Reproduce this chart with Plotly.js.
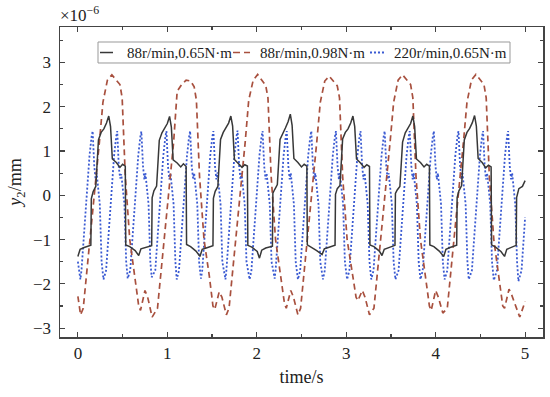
<!DOCTYPE html>
<html>
<head>
<meta charset="utf-8">
<script src="https://cdn.plot.ly/plotly-3.0.1.min.js"></script>
<style>html,body{margin:0;padding:0;background:#fff;}#chart{width:550px;height:397px;}</style>
</head>
<body>
<div id="chart"></div>
<script>
// Values in units of 1e-6 mm (axis shows ×10^-6)
const seriesNames = ['88r/min,0.65N·m', '88r/min,0.98N·m', '220r/min,0.65N·m'];
const xTickVals = [0, 1, 2, 3, 4, 5];
const yTickVals = [-3, -2, -1, 0, 1, 2, 3];

const blackTime = [
0, 0.025, 0.07, 0.145, 0.15, 0.17, 0.20, 0.23, 0.26, 0.29, 0.32, 0.345, 0.365, 0.385, 0.43, 0.47, 0.50, 0.53, 0.535, 0.58, 0.64,
0.68, 0.705, 0.75, 0.825, 0.83, 0.85, 0.88, 0.91, 0.94, 0.97, 1.00, 1.025, 1.045, 1.065, 1.11, 1.15, 1.18, 1.21, 1.215, 1.26, 1.32,
1.365, 1.39, 1.435, 1.51, 1.515, 1.535, 1.565, 1.595, 1.625, 1.655, 1.685, 1.71, 1.73, 1.75, 1.795, 1.835, 1.865, 1.895, 1.90, 1.945, 2.005,
2.03, 2.055, 2.10, 2.175, 2.18, 2.20, 2.23, 2.26, 2.29, 2.32, 2.35, 2.375, 2.395, 2.415, 2.46, 2.50, 2.53, 2.56, 2.565, 2.61, 2.67,
2.73, 2.755, 2.80, 2.875, 2.88, 2.90, 2.93, 2.96, 2.99, 3.02, 3.05, 3.075, 3.095, 3.115, 3.16, 3.20, 3.23, 3.26, 3.265, 3.31, 3.37,
3.40, 3.425, 3.47, 3.545, 3.55, 3.57, 3.60, 3.63, 3.66, 3.69, 3.72, 3.745, 3.765, 3.785, 3.83, 3.87, 3.90, 3.93, 3.935, 3.98, 4.04,
4.09, 4.115, 4.16, 4.235, 4.24, 4.26, 4.29, 4.32, 4.35, 4.38, 4.41, 4.435, 4.455, 4.475, 4.52, 4.56, 4.59, 4.62, 4.625, 4.67, 4.73,
4.77, 4.795, 4.84, 4.90, 4.905, 4.93, 4.97, 5.0];
const blackY = [
-1.38, -1.22, -1.18, -1.13, -0.08, 0.08, 0.20, 1.25, 1.42, 1.50, 1.63, 1.79, 1.55, 0.82, 0.74, 0.63, 0.70, 0.66, -1.12, -1.16, -1.25,
-1.36, -1.21, -1.18, -1.14, -0.06, 0.10, 0.21, 1.24, 1.41, 1.50, 1.62, 1.78, 1.54, 0.80, 0.73, 0.64, 0.71, 0.65, -1.11, -1.16, -1.26,
-1.38, -1.22, -1.19, -1.14, -0.07, 0.09, 0.20, 1.26, 1.42, 1.51, 1.63, 1.79, 1.56, 0.81, 0.72, 0.63, 0.69, 0.66, -1.13, -1.17, -1.27,
-1.42, -1.24, -1.19, -1.15, 0.05, 0.13, 0.24, 1.26, 1.41, 1.52, 1.66, 1.83, 1.58, 0.83, 0.74, 0.64, 0.70, 0.66, -1.12, -1.17, -1.25,
-1.34, -1.21, -1.18, -1.13, 0.02, 0.15, 0.22, 1.27, 1.42, 1.50, 1.63, 1.79, 1.55, 0.82, 0.73, 0.63, 0.69, 0.65, -1.12, -1.16, -1.26,
-1.36, -1.22, -1.18, -1.13, 0.04, 0.12, 0.20, 1.20, 1.41, 1.50, 1.62, 1.79, 1.55, 0.82, 0.74, 0.64, 0.70, 0.66, -1.12, -1.16, -1.26,
-1.38, -1.22, -1.18, -1.13, -0.05, 0.10, 0.22, 1.25, 1.42, 1.51, 1.64, 1.80, 1.56, 0.83, 0.74, 0.62, 0.68, 0.64, -1.12, -1.17, -1.27,
-1.38, -1.22, -1.18, -1.13, -0.05, 0.15, 0.20, 0.33];

const redTime = [
0, 0.03,
0.06, 0.10, 0.145, 0.19, 0.24, 0.28, 0.33, 0.38, 0.43, 0.47, 0.495, 0.53, 0.58, 0.64, 0.68, 0.70, 0.75, 0.78, 0.83,
0.89, 0.93, 0.975, 1.02, 1.07, 1.11, 1.16, 1.21, 1.26, 1.30, 1.325, 1.36, 1.41, 1.47, 1.51, 1.53, 1.58, 1.61, 1.66,
1.69, 1.73, 1.775, 1.82, 1.87, 1.91, 1.96, 2.01, 2.06, 2.10, 2.125, 2.16, 2.21, 2.27, 2.31, 2.33, 2.38, 2.41, 2.46,
2.49, 2.53, 2.575, 2.62, 2.67, 2.71, 2.76, 2.81, 2.86, 2.90, 2.925, 2.96, 3.01, 3.07, 3.11, 3.13, 3.18, 3.21, 3.26,
3.31, 3.35, 3.395, 3.44, 3.49, 3.53, 3.58, 3.63, 3.68, 3.72, 3.745, 3.78, 3.83, 3.89, 3.93, 3.95, 4.00, 4.03, 4.08,
4.13, 4.17, 4.215, 4.26, 4.31, 4.35, 4.40, 4.45, 4.50, 4.54, 4.565, 4.60, 4.65, 4.71, 4.75, 4.77, 4.82, 4.85, 4.94, 5.0];
const redY = [
-2.28, -2.70,
-2.55, -1.75, -0.70, 0.20, 1.19, 2.10, 2.60, 2.72, 2.60, 2.50, 2.20, 0.43, -1.00, -1.83, -2.50, -2.60, -2.15, -2.30, -2.75,
-2.55, -1.75, -0.70, 0.20, 1.19, 2.35, 2.50, 2.60, 2.58, 2.45, 2.15, 0.43, -1.00, -1.83, -2.50, -2.58, -2.18, -2.30, -2.70,
-2.55, -1.75, -0.70, 0.20, 1.19, 2.15, 2.60, 2.73, 2.60, 2.48, 2.20, 0.45, -1.00, -1.83, -2.45, -2.55, -2.15, -2.30, -2.70,
-2.55, -1.75, -0.70, 0.20, 1.19, 2.10, 2.58, 2.69, 2.58, 2.47, 2.20, 0.43, -1.00, -1.80, -2.30, -2.38, -2.15, -2.30, -2.70,
-2.55, -1.75, -0.70, 0.20, 1.19, 2.10, 2.60, 2.72, 2.60, 2.50, 2.20, 0.43, -1.00, -1.83, -2.50, -2.60, -2.15, -2.30, -2.66,
-2.55, -1.75, -0.70, 0.20, 1.19, 2.10, 2.60, 2.73, 2.60, 2.50, 2.20, 0.43, -1.00, -1.83, -2.50, -2.55, -2.12, -2.25, -2.75, -2.40];

const blueTime = [
0, 0.028,
0.04, 0.075, 0.10, 0.13, 0.153, 0.165, 0.183, 0.198, 0.21, 0.225, 0.245, 0.265, 0.286,
0.315, 0.35, 0.375, 0.405, 0.428, 0.44, 0.458, 0.473, 0.485, 0.50, 0.52, 0.54, 0.557,
0.585, 0.62, 0.645, 0.675, 0.698, 0.71, 0.728, 0.743, 0.755, 0.77, 0.79, 0.81, 0.825,
0.865, 0.90, 0.925, 0.955, 0.978, 0.99, 1.008, 1.023, 1.035, 1.05, 1.07, 1.09, 1.105,
1.13, 1.165, 1.19, 1.22, 1.243, 1.255, 1.273, 1.288, 1.30, 1.315, 1.335, 1.355, 1.376,
1.39, 1.425, 1.45, 1.48, 1.503, 1.515, 1.533, 1.548, 1.56, 1.575, 1.595, 1.615, 1.65,
1.66, 1.695, 1.72, 1.75, 1.773, 1.785, 1.803, 1.818, 1.83, 1.845, 1.865, 1.885, 1.92,
1.94, 1.975, 2.00, 2.03, 2.053, 2.065, 2.083, 2.098, 2.11, 2.125, 2.145, 2.165, 2.20,
2.21, 2.245, 2.27, 2.30, 2.323, 2.335, 2.353, 2.368, 2.38, 2.395, 2.415, 2.435, 2.46,
2.485, 2.52, 2.545, 2.575, 2.598, 2.61, 2.628, 2.643, 2.655, 2.67, 2.69, 2.71, 2.74,
2.76, 2.795, 2.82, 2.85, 2.873, 2.885, 2.903, 2.918, 2.93, 2.945, 2.965, 2.985, 3.01,
3.035, 3.07, 3.095, 3.125, 3.148, 3.16, 3.178, 3.193, 3.205, 3.22, 3.24, 3.26, 3.28,
3.305, 3.34, 3.365, 3.395, 3.418, 3.43, 3.448, 3.463, 3.475, 3.49, 3.51, 3.53, 3.55,
3.585, 3.62, 3.645, 3.675, 3.698, 3.71, 3.728, 3.743, 3.755, 3.77, 3.79, 3.81, 3.83,
3.855, 3.89, 3.915, 3.945, 3.968, 3.98, 3.998, 4.013, 4.025, 4.04, 4.06, 4.08, 4.10,
4.13, 4.165, 4.19, 4.22, 4.243, 4.255, 4.273, 4.288, 4.30, 4.315, 4.335, 4.355, 4.37,
4.405, 4.44, 4.465, 4.495, 4.518, 4.53, 4.548, 4.563, 4.575, 4.59, 4.61, 4.63, 4.65,
4.685, 4.72, 4.745, 4.775, 4.798, 4.81, 4.828, 4.843, 4.855, 4.87, 4.89, 4.91, 4.925,
4.96, 5.0];
const blueY = [
-1.50, -1.90,
-1.70, -0.70, 0.15, 0.90, 1.32, 1.45, 0.66, 0.36, 0.50, 0.22, -0.20, -1.50, -1.90,
-1.70, -0.70, 0.15, 0.90, 1.32, 1.45, 0.62, 0.38, 0.48, 0.20, -0.20, -1.50, -1.88,
-1.70, -0.70, 0.15, 0.90, 1.32, 1.44, 0.66, 0.36, 0.50, 0.22, -0.20, -1.50, -1.85,
-1.70, -0.70, 0.15, 0.90, 1.32, 1.45, 0.64, 0.36, 0.50, 0.22, -0.20, -1.50, -1.90,
-1.70, -0.70, 0.15, 0.90, 1.32, 1.45, 0.66, 0.38, 0.50, 0.22, -0.20, -1.50, -1.88,
-1.70, -0.70, 0.15, 0.90, 1.32, 1.45, 0.66, 0.36, 0.52, 0.22, -0.20, -1.50, -1.90,
-1.70, -0.70, 0.15, 0.90, 1.32, 1.46, 0.66, 0.36, 0.50, 0.22, -0.20, -1.50, -1.90,
-1.70, -0.70, 0.15, 0.90, 1.32, 1.45, 0.66, 0.36, 0.50, 0.22, -0.20, -1.50, -1.88,
-1.70, -0.70, 0.15, 0.90, 1.32, 1.45, 0.66, 0.36, 0.50, 0.22, -0.20, -1.50, -1.90,
-1.70, -0.70, 0.15, 0.90, 1.32, 1.45, 0.64, 0.36, 0.50, 0.22, -0.20, -1.50, -1.90,
-1.70, -0.70, 0.15, 0.90, 1.32, 1.45, 0.66, 0.36, 0.50, 0.22, -0.20, -1.50, -1.90,
-1.70, -0.70, 0.15, 0.90, 1.32, 1.45, 0.66, 0.36, 0.50, 0.22, -0.20, -1.50, -1.90,
-1.70, -0.70, 0.15, 0.90, 1.32, 1.45, 0.66, 0.36, 0.50, 0.22, -0.20, -1.50, -1.90,
-1.70, -0.70, 0.15, 0.90, 1.32, 1.45, 0.66, 0.36, 0.50, 0.22, -0.20, -1.50, -1.90,
-1.70, -0.70, 0.15, 0.90, 1.32, 1.45, 0.66, 0.36, 0.50, 0.22, -0.20, -1.50, -1.90,
-1.70, -0.70, 0.15, 0.90, 1.32, 1.45, 0.66, 0.36, 0.50, 0.22, -0.20, -1.50, -1.90,
-1.70, -0.70, 0.15, 0.90, 1.32, 1.45, 0.66, 0.36, 0.50, 0.22, -0.20, -1.50, -1.92,
-1.70, -0.70, 0.15, 0.90, 1.32, 1.45, 0.66, 0.36, 0.50, 0.22, -0.20, -1.50, -1.94,
-1.70, -0.50];

const serif = 'Liberation Serif, Times New Roman, serif';
const colors = ['#383838', '#a8503e', '#3a5ad2'];
const dashes = ['solid', '6px,4px', '2px,2px'];
const widths = [1.5, 1.7, 1.8];

const traces = [
  {x: blueTime, y: blueY, name: seriesNames[2], type: 'scatter', mode: 'lines', showlegend: false,
   line: {color: colors[2], width: widths[2], dash: dashes[2]}},
  {x: redTime, y: redY, name: seriesNames[1], type: 'scatter', mode: 'lines', showlegend: false,
   line: {color: colors[1], width: widths[1], dash: dashes[1]}},
  {x: blackTime, y: blackY, name: seriesNames[0], type: 'scatter', mode: 'lines', showlegend: false,
   line: {color: colors[0], width: widths[0]}}
];

// Legend box (paper coordinates)
const legBox = {x0: 0.0787, x1: 0.9317, y0: 0.8839, y1: 0.9516};
const legY = 0.9177;
const legSym = [[0.0828, 0.1097], [0.3582, 0.3934], [0.6418, 0.6729]];
const legText = [0.1346, 0.4099, 0.6874];

const shapes = [{type: 'rect', xref: 'paper', yref: 'paper', x0: legBox.x0, x1: legBox.x1, y0: legBox.y0, y1: legBox.y1,
                 line: {color: '#999', width: 1}, fillcolor: '#fff', layer: 'above'}];
const annotations = [{
  text: '×10<sup>−6</sup>', xref: 'paper', yref: 'paper', x: 0, y: 1, xanchor: 'left', yanchor: 'bottom',
  showarrow: false, font: {family: serif, size: 17, color: '#222'}, xshift: -2
}];
for (let i = 0; i < 3; i++) {
  shapes.push({type: 'line', xref: 'paper', yref: 'paper', x0: legSym[i][0], x1: legSym[i][1], y0: legY, y1: legY,
               line: {color: colors[i], width: widths[i], dash: i === 1 ? '7px,4px' : dashes[i]}, layer: 'above'});
  annotations.push({text: seriesNames[i], xref: 'paper', yref: 'paper', x: legText[i], y: legY,
                    xanchor: 'left', yanchor: 'middle', showarrow: false,
                    font: {family: serif, size: 15, color: '#222'}});
}

const axisCommon = {
  showgrid: false, zeroline: false, showline: true, mirror: 'ticks',
  linecolor: '#444', linewidth: 1.5, ticks: 'inside', ticklen: 5, tickwidth: 1.2, tickcolor: '#444',
  tickfont: {family: serif, size: 17, color: '#222'}
};

const layout = {
  width: 550, height: 397,
  margin: {l: 60, r: 7, t: 27, b: 60},
  paper_bgcolor: '#fff', plot_bgcolor: '#fff',
  font: {family: serif, color: '#222'},
  showlegend: false,
  xaxis: Object.assign({}, axisCommon, {
    range: [-0.2, 5.2], tickmode: 'array', tickvals: xTickVals,
    minor: {dtick: 0.5, ticklen: 3, tickcolor: '#444', ticks: 'inside'},
    title: {text: 'time/s', font: {family: serif, size: 18, color: '#222'}, standoff: 8}
  }),
  yaxis: Object.assign({}, axisCommon, {
    range: [-3.2, 3.8], tickmode: 'array', tickvals: yTickVals, ticklabelstandoff: 4,
    minor: {dtick: 0.5, ticklen: 3, tickcolor: '#444', ticks: 'inside'},
    title: {text: '<i>y</i><sub>2</sub>/mm', font: {family: serif, size: 18, color: '#222'}, standoff: 6}
  }),
  shapes: shapes,
  annotations: annotations
};

Plotly.newPlot('chart', traces, layout, {displayModeBar: false, staticPlot: true});
</script>
</body>
</html>
